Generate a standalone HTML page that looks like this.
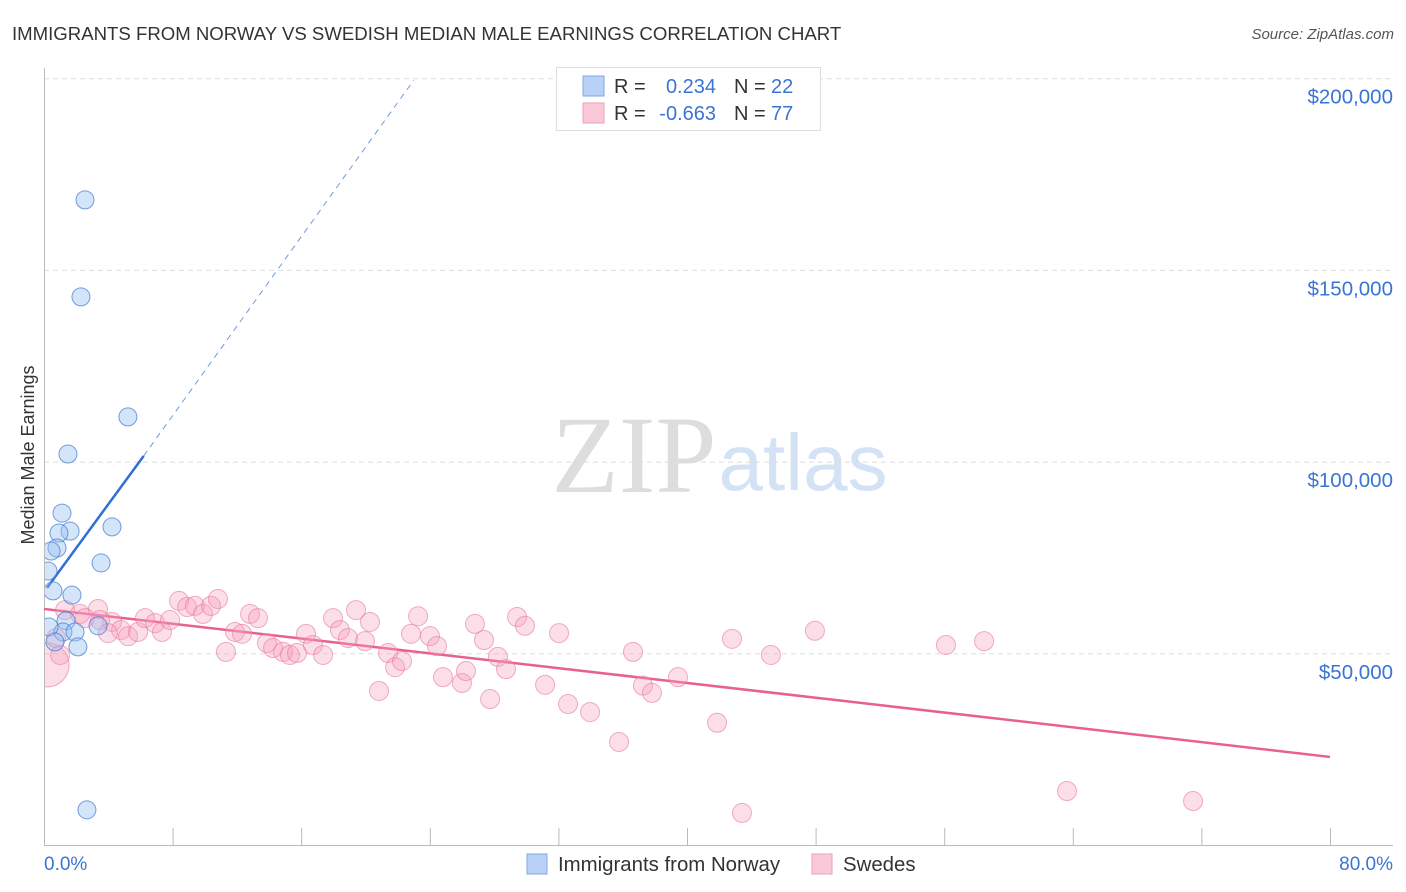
<!DOCTYPE html>
<html><head><meta charset="utf-8"><style>
body{margin:0;background:#fff;font-family:"Liberation Sans",sans-serif;}
#wrap{position:relative;width:1406px;height:892px;overflow:hidden;}
</style></head><body>
<div id="wrap">
<svg id="svg" width="1406" height="892" xmlns="http://www.w3.org/2000/svg">
<defs><clipPath id="plotclip"><rect x="45" y="60" width="1350" height="785"/></clipPath></defs>
<text x="12" y="40" font-size="18.6" fill="#333">IMMIGRANTS FROM NORWAY VS SWEDISH MEDIAN MALE EARNINGS CORRELATION CHART</text>
<text x="1394" y="39" font-size="15" fill="#555" font-style="italic" text-anchor="end">Source: ZipAtlas.com</text>
<text x="634" y="492" font-size="110" fill="#ddd" font-family="Liberation Serif, serif" text-anchor="middle">ZIP</text>
<text x="803" y="490" font-size="80" fill="#d3e2f5" text-anchor="middle">atlas</text>
<text transform="translate(34,455) rotate(-90)" font-size="18" fill="#333" text-anchor="middle">Median Male Earnings</text>
<g id="grid"></g><g id="axes"></g><g id="lines"></g><g id="pts" clip-path="url(#plotclip)"></g>
<g>
<rect x="556.5" y="67.5" width="264" height="63" fill="#fff" stroke="#ddd"/>
<rect x="583" y="76" width="21" height="20" fill="#b8d1f5" stroke="#7fa8e6"/>
<rect x="583" y="103" width="21" height="20" fill="#fac8d8" stroke="#ee9fba"/>
<text x="614" y="93" font-size="20" fill="#333">R =</text><text x="716" y="93" font-size="20" fill="#3a74d6" text-anchor="end">0.234</text>
<text x="734" y="93" font-size="20" fill="#333">N =</text><text x="771" y="93" font-size="20" fill="#3a74d6">22</text>
<text x="614" y="120" font-size="20" fill="#333">R =</text><text x="716" y="120" font-size="20" fill="#3a74d6" text-anchor="end">-0.663</text>
<text x="734" y="120" font-size="20" fill="#333">N =</text><text x="771" y="120" font-size="20" fill="#3a74d6">77</text>
</g>
<g>
<rect x="527" y="854" width="20" height="20" fill="#b8d1f5" stroke="#7fa8e6"/>
<text x="558" y="871" font-size="20.4" fill="#333">Immigrants from Norway</text>
<rect x="812" y="854" width="20" height="20" fill="#fac8d8" stroke="#ee9fba"/>
<text x="843" y="871" font-size="20.4" fill="#333">Swedes</text>
</g>
</svg>
</div>
<script>
const yTicks=[50000,100000,150000,200000];
const yTickLabels=["$50,000","$100,000","$150,000","$200,000"];
const xTicks=[0,8,16,24,32,40,48,56,64,72,80];
const blueX=[2.55,2.30,5.22,1.49,1.12,4.23,1.62,0.93,0.81,0.44,3.55,0.25,0.56,1.74,3.36,1.37,1.18,1.93,0.31,0.68,2.11,2.67];
const blueY=[168.4,143.1,111.8,102.1,86.7,83.1,82.0,81.5,77.6,76.8,73.7,71.6,66.4,65.3,57.3,58.6,55.7,55.7,57.0,53.1,51.8,9.3];
const pinkX=[0.19,1.31,3.36,2.24,2.55,4.23,3.48,4.79,5.23,5.85,6.28,6.91,7.34,7.84,8.40,8.90,9.39,9.89,10.39,10.82,11.32,11.88,12.32,12.82,13.31,13.87,14.25,14.87,15.30,15.74,16.30,16.73,17.36,17.98,18.41,18.91,19.41,19.97,20.28,20.84,21.40,21.84,22.27,22.83,23.27,24.01,24.45,24.82,26.00,26.25,26.81,27.37,27.75,28.24,28.74,29.43,29.92,31.17,32.04,32.60,33.97,35.77,36.64,37.26,37.82,39.44,41.87,42.80,43.42,45.22,47.96,56.11,58.48,63.64,71.48,0.75,1.00,3.98];
const pinkY=[47.1,61.4,61.7,60.4,59.3,58.3,58.8,56.2,54.6,55.7,59.3,58.0,55.7,58.8,63.8,62.2,62.5,60.4,62.5,64.3,50.5,55.7,55.2,60.4,59.3,52.8,51.5,50.5,49.7,50.2,55.2,52.3,49.7,59.3,56.2,54.1,61.4,53.3,58.3,40.3,50.2,46.5,48.1,55.2,59.8,54.6,52.0,43.9,42.4,45.5,57.8,53.6,38.2,49.2,46.0,59.6,57.3,41.9,55.4,36.9,34.8,27.0,50.5,41.7,39.8,43.9,32.0,53.9,8.5,49.7,56.0,52.3,53.3,14.2,11.6,54.1,49.7,55.4];
const blueTrend=[0.19,67.2,6.2,101.6,23.0,199.6];
const pinkTrend=[0,61.7,80,23.1];
const NS="http://www.w3.org/2000/svg";
const X=v=>44+v*(1330-44)/80;
const Y=v=>845.5-v*191.7/50000;
const Yk=v=>Y(v*1000);
function mk(tag,attrs,parent){const e=document.createElementNS(NS,tag);for(const k in attrs)e.setAttribute(k,attrs[k]);document.getElementById(parent).appendChild(e);return e;}
yTicks.forEach((t,i)=>{
 const l=mk('line',{x1:44,x2:1393,y1:Y(t),y2:Y(t),stroke:'#ddd','stroke-dasharray':'5,4'},'grid');
 
 
 const tx=mk('text',{x:1393,y:Y(t)+25,'font-size':20.5,fill:'#3a74d6','text-anchor':'end'},'grid');
 tx.textContent=yTickLabels[i];
 
 
});
let a=mk('line',{x1:44,x2:1393,y1:845.5,y2:845.5,stroke:'#bbb'},'axes');


a=mk('line',{x1:44.5,x2:44.5,y1:68,y2:845,stroke:'#bbb'},'axes');


xTicks.forEach(t=>{const l=mk('line',{x1:X(t)+0.5,x2:X(t)+0.5,y1:828,y2:845,stroke:'#bbb'},'axes');
 
 });
let t0=mk('text',{x:44,y:870,'font-size':19,fill:'#3a74d6'},'axes');t0.textContent=xTicks[0].toFixed(1)+'%';


let t1=mk('text',{x:1393,y:870,'font-size':19,fill:'#3a74d6','text-anchor':'end'},'axes');t1.textContent=xTicks[xTicks.length-1].toFixed(1)+'%';


let bl=mk('line',{x1:X(blueTrend[0]),y1:Yk(blueTrend[1]),x2:X(blueTrend[2]),y2:Yk(blueTrend[3]),stroke:'#2f6fd6','stroke-width':2.5},'lines');


let bd=mk('line',{x1:X(blueTrend[2]),y1:Yk(blueTrend[3]),x2:X(blueTrend[4]),y2:Yk(blueTrend[5]),stroke:'#6d9be0','stroke-width':1,'stroke-dasharray':'6,5'},'lines');


let pl=mk('line',{x1:X(pinkTrend[0]),y1:Yk(pinkTrend[1]),x2:X(pinkTrend[2]),y2:Yk(pinkTrend[3]),stroke:'#e8608f','stroke-width':2.5},'lines');


pinkX.forEach((x,i)=>{const c=mk('circle',{cx:X(x),cy:Yk(pinkY[i]),r:i===0?22:9.5,fill:'rgba(245,160,190,0.35)',stroke:'rgba(230,120,160,0.6)','stroke-width':1},'pts');
 
 });
blueX.forEach((x,i)=>{const c=mk('circle',{cx:X(x),cy:Yk(blueY[i]),r:9,fill:'rgba(150,190,240,0.4)',stroke:'rgba(60,120,210,0.7)','stroke-width':1},'pts');
 
 });
</script>
</body></html>
